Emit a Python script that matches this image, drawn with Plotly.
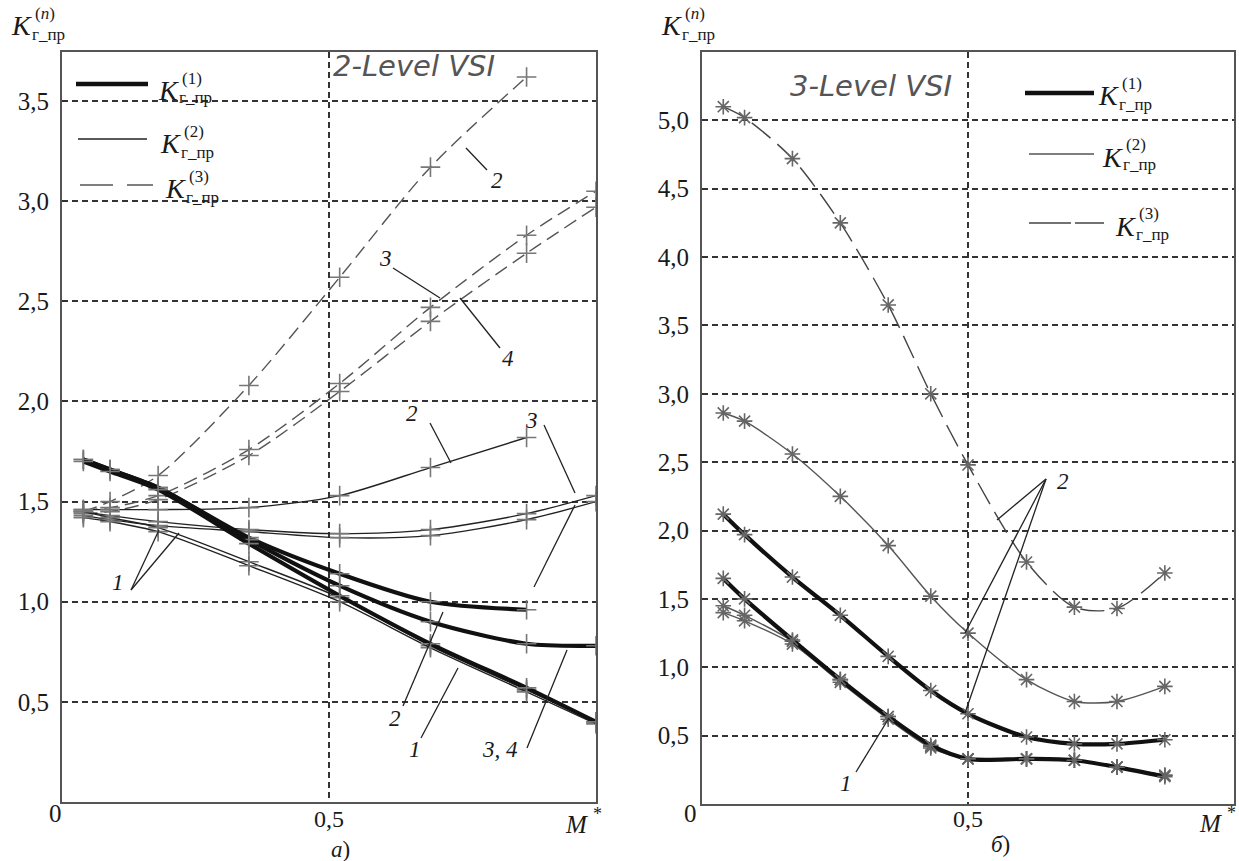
import plotly.graph_objects as go

W, H = 1239, 861

# ---------------- data: left panel (2-Level VSI) ----------------
XL = [0.04, 0.09, 0.18, 0.35, 0.52, 0.69, 0.87, 1.0]
L_K3_2 = [1.45, 1.50, 1.63, 2.08, 2.62, 3.17, 3.62]
L_K3_3 = [1.46, 1.47, 1.53, 1.76, 2.09, 2.47, 2.83, 3.05]
L_K3_4 = [1.44, 1.45, 1.51, 1.73, 2.05, 2.40, 2.74, 2.97]
L_K2_2 = [1.46, 1.46, 1.46, 1.47, 1.53, 1.67, 1.82]
L_K2_3a = [1.45, 1.43, 1.40, 1.36, 1.34, 1.36, 1.44, 1.53]
L_K2_3b = [1.43, 1.41, 1.38, 1.35, 1.32, 1.33, 1.41, 1.50]
L_K2_1a = [1.45, 1.42, 1.37, 1.20, 1.02, 0.78, 0.56, 0.40]
L_K2_1b = [1.42, 1.40, 1.35, 1.18, 1.00, 0.77, 0.55, 0.39]
L_K1_3 = [1.71, 1.66, 1.57, 1.32, 1.14, 1.00, 0.96]
L_K1_2 = [1.71, 1.66, 1.57, 1.31, 1.08, 0.90, 0.79, 0.78]
L_K1_34 = [1.70, 1.65, 1.56, 1.29, 1.03, 0.79, 0.57, 0.40]

# ---------------- data: right panel (3-Level VSI) ----------------
XR = [0.04, 0.08, 0.17, 0.26, 0.35, 0.43, 0.50, 0.61, 0.70, 0.78, 0.87]
R_K3 = [5.10, 5.02, 4.72, 4.25, 3.65, 3.00, 2.48, 1.77, 1.44, 1.43, 1.69]
R_K2_up = [2.86, 2.80, 2.56, 2.25, 1.89, 1.52, 1.25, 0.91, 0.75, 0.75, 0.86]
R_K1_up = [2.12, 1.97, 1.66, 1.38, 1.08, 0.83, 0.66, 0.49, 0.44, 0.44, 0.47]
R_K1_lo = [1.65, 1.50, 1.20, 0.91, 0.64, 0.43, 0.33, 0.33, 0.32, 0.27, 0.20]
R_K2_loa = [1.45, 1.38, 1.19, 0.91, 0.64, 0.42, 0.33, 0.33, 0.32, 0.27, 0.21]
R_K2_lob = [1.40, 1.34, 1.17, 0.89, 0.62, 0.41, 0.33, 0.33, 0.32, 0.27, 0.21]

Y_TICKS_L = [0.5, 1.0, 1.5, 2.0, 2.5, 3.0, 3.5]
Y_TICKS_R = [0.5, 1.0, 1.5, 2.0, 2.5, 3.0, 3.5, 4.0, 4.5, 5.0]
X_TICKS = [0.5]
X_TICK_TEXT = "0,5"

SERIF = "Liberation Serif, Times New Roman, Times, serif"
SANS = "DejaVu Sans, Verdana, sans-serif"


def PX(x):
    return x / W


def PY(y):
    return 1 - y / H


fig = go.Figure()

THICK = dict(width=4.2, color="#111111")
THIN_L = dict(width=1.4, color="#222222")
DASH_L = dict(width=1.4, color="#555555", dash="14px,7px")
THIN_R = dict(width=1.4, color="#555555")
DASH_R = dict(width=1.4, color="#444444", dash="24px,9px")

MK_L = dict(symbol="cross-thin-open", size=14, color="#777777",
            line=dict(width=1.6, color="#777777"))
MK_R = dict(symbol="asterisk-open", size=13, color="#666666",
            line=dict(width=1.6, color="#666666"))


def add(xs, ys, line, mk, xa, ya):
    fig.add_trace(go.Scatter(
        x=xs[:len(ys)], y=ys, mode="lines+markers",
        line=dict(shape="spline", smoothing=0.8, **line),
        marker=mk, xaxis=xa, yaxis=ya, showlegend=False,
        hoverinfo="skip"))


# left panel
for ys in (L_K3_2, L_K3_3, L_K3_4):
    add(XL, ys, DASH_L, MK_L, "x", "y")
for ys in (L_K2_2, L_K2_3a, L_K2_3b, L_K2_1a, L_K2_1b):
    add(XL, ys, THIN_L, MK_L, "x", "y")
for ys in (L_K1_3, L_K1_2, L_K1_34):
    add(XL, ys, THICK, MK_L, "x", "y")

# right panel
add(XR, R_K3, DASH_R, MK_R, "x2", "y2")
for ys in (R_K2_up, R_K2_loa, R_K2_lob):
    add(XR, ys, THIN_R, MK_R, "x2", "y2")
for ys in (R_K1_up, R_K1_lo):
    add(XR, ys, THICK, MK_R, "x2", "y2")

axis_common = dict(
    showline=True, mirror=True, linecolor="#555555", linewidth=2,
    zeroline=False, showgrid=True, gridcolor="#333333", gridwidth=1.5,
    griddash="6px,4px", ticks="", ticklen=0,
    tickfont=dict(family=SERIF, size=25, color="#1a1a1a"),
    tickformat=".1f",
)

fig.update_layout(
    width=W, height=H, margin=dict(l=0, r=0, t=0, b=0),
    paper_bgcolor="white", plot_bgcolor="white",
    separators=", ",
    font=dict(family=SERIF),
    xaxis=dict(domain=[PX(62), PX(596)], range=[0, 1.0], tickvals=X_TICKS,
               showticklabels=False, anchor="y", **axis_common),
    yaxis=dict(domain=[PY(802), PY(52)], range=[0, 3.745], tickvals=Y_TICKS_L,
               anchor="x", ticklabelstandoff=6, **axis_common),
    xaxis2=dict(domain=[PX(702), PX(1234)], range=[0, 1.0], tickvals=X_TICKS,
                showticklabels=False, anchor="y2", **axis_common),
    yaxis2=dict(domain=[PY(804), PY(52)], range=[0, 5.5], tickvals=Y_TICKS_R,
                anchor="x2", ticklabelstandoff=6, **axis_common),
)

ann = []
shapes = []


def text(x, y, s, size=23, family=SERIF, color="#1a1a1a", xanchor="center",
         yanchor="middle", xref="paper"):
    ann.append(dict(x=PX(x) if xref == "paper" else x, y=PY(y), xref=xref,
                    yref="paper", text=s, showarrow=False, xanchor=xanchor,
                    yanchor=yanchor, font=dict(family=family, size=size, color=color)))


def seg(x0, y0, x1, y1, width=1.3, color="#222222", dash=None):
    ln = dict(width=width, color=color)
    if dash:
        ln["dash"] = dash
    shapes.append(dict(type="line", xref="paper", yref="paper",
                       x0=PX(x0), y0=PY(y0), x1=PX(x1), y1=PY(y1), line=ln))


def klabel(x0, yc, sup, ksize=28):
    text(x0, yc, "<i>K</i>", size=ksize, xanchor="left")
    text(x0 + 24, yc - 12, sup, size=17, xanchor="left")
    text(x0 + 21, yc + 8, "г_пр", size=17, xanchor="left")


def mstar(x, y):
    text(x, y, "<i>M</i>", size=25, xanchor="right")
    text(x + 1, y - 10, "*", size=18, xanchor="left")


# x tick labels (placed on the data x position of the tick)
text(X_TICKS[0], 819, X_TICK_TEXT, size=24, xref="x")
text(X_TICKS[0], 819, X_TICK_TEXT, size=24, xref="x2")

# y-axis titles
klabel(9, 26, "(<i>n</i>)")
klabel(659, 26, "(<i>n</i>)")

# legends (left)
seg(76, 84, 148, 84, width=4.5, color="#111111")
klabel(156, 90, "(1)")
seg(78, 139, 147, 139, width=1.5, color="#222222")
klabel(158, 144, "(2)")
seg(80, 185, 113, 185, width=1.5, color="#555555")
seg(127, 185, 153, 185, width=1.5, color="#555555")
klabel(163, 189, "(3)")

# legends (right)
seg(1025, 93, 1094, 93, width=4.5, color="#111111")
klabel(1096, 96, "(1)")
seg(1029, 154, 1094, 154, width=1.5, color="#555555")
klabel(1100, 157, "(2)")
seg(1029, 223, 1071, 223, width=1.5, color="#444444")
seg(1075, 223, 1104, 223, width=1.5, color="#444444")
klabel(1113, 226, "(3)")

# titles inside panels
text(414, 66, "<i>2-Level VSI</i>", size=29, family=SANS, color="#555555")
text(871, 86, "<i>3-Level VSI</i>", size=29, family=SANS, color="#555555")

# origin / axis end labels
text(55, 813, "0", size=25)
text(690, 813, "0", size=25)
mstar(590, 824)
mstar(1224, 823)
text(340, 849, "<i>а</i>)", size=23)
text(1000, 844, "<i>б</i>)", size=23)

# curve number labels (left)
text(497, 180, "<i>2</i>")
seg(466, 148, 487, 170)
text(385, 258, "<i>3</i>")
seg(393, 268, 440, 298)
text(508, 358, "<i>4</i>")
seg(500, 348, 460, 298)
text(412, 413, "<i>2</i>")
seg(430, 423, 451, 463)
text(531, 420, "<i>3</i>")
seg(544, 425, 575, 493)
seg(575, 505, 534, 587)
text(118, 582, "<i>1</i>")
seg(131, 590, 159, 530)
seg(131, 590, 179, 533)
text(395, 718, "<i>2</i>")
seg(403, 706, 443, 612)
text(415, 749, "<i>1</i>")
seg(421, 738, 458, 668)
text(500, 749, "<i>3, 4</i>")
seg(527, 748, 567, 650)

# curve number labels (right)
text(1063, 482, "<i>2</i>")
seg(1046, 479, 997, 520)
seg(1046, 479, 965, 633)
seg(1046, 479, 965, 713)
text(846, 783, "<i>1</i>")
seg(856, 772, 889, 718)

fig.update_layout(annotations=ann, shapes=shapes)
fig.write_html("out.html")
